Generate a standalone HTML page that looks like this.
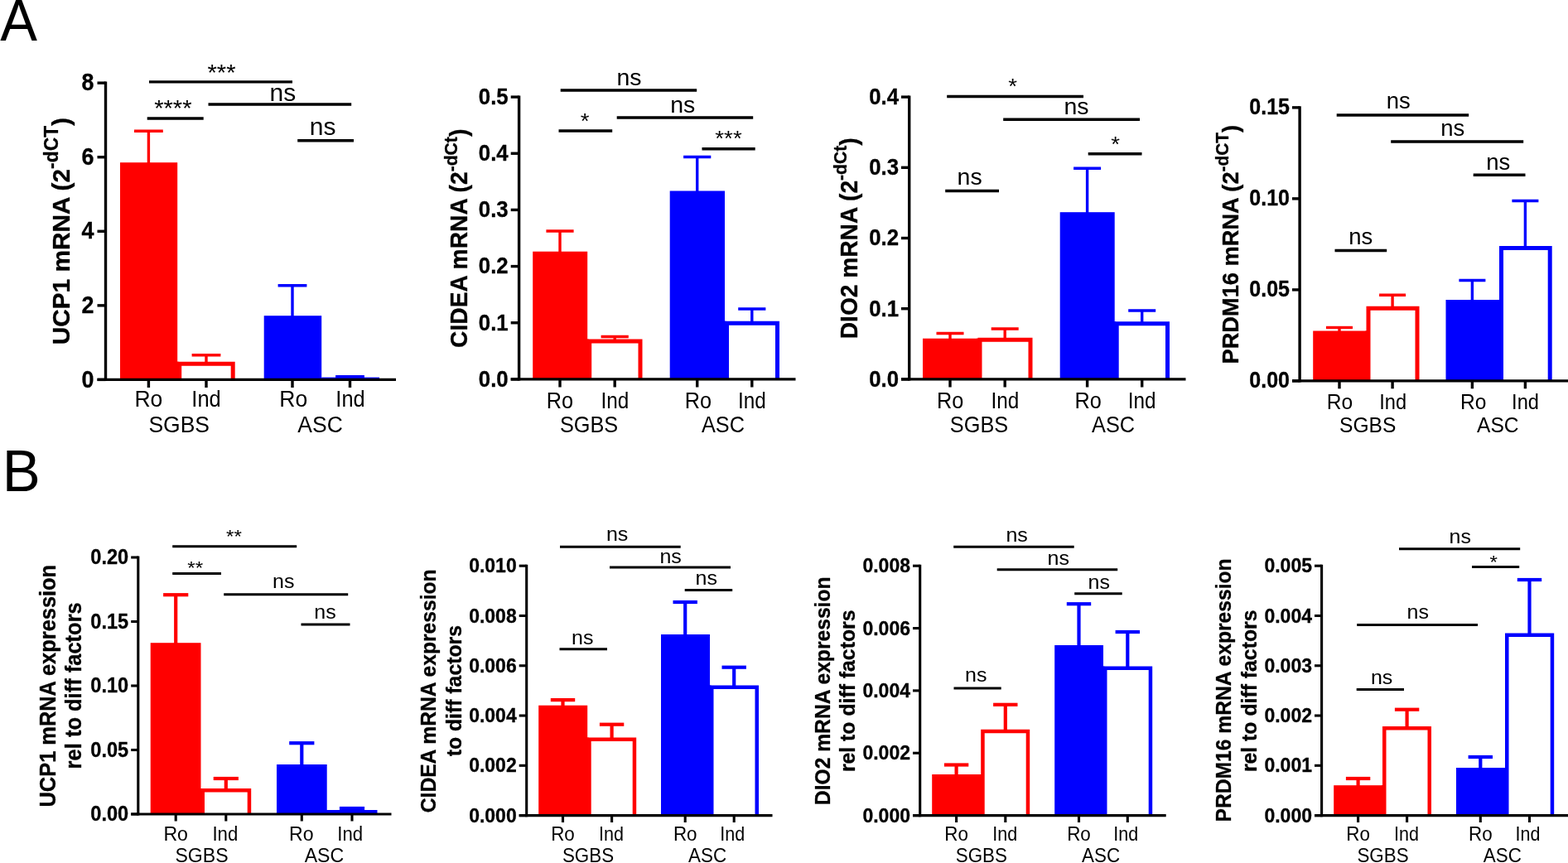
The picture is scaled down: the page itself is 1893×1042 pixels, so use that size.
<!DOCTYPE html>
<html lang="en"><head><meta charset="utf-8"><title>Figure</title>
<style>
html,body{margin:0;padding:0;background:#fff;overflow:hidden}
svg{display:block;font-family:"Liberation Sans",sans-serif;fill:#000}
</style></head><body>
<svg width="1893" height="1042" viewBox="0 0 1893 1042">
<rect width="1893" height="1042" fill="#fff"/>
<rect x="145.00" y="196.20" width="69.20" height="262.20" fill="#ff0000"/>
<path d="M216.70 458.40V439.20H281.20V458.40" fill="#fff" stroke="#ff0000" stroke-width="5.0" stroke-linejoin="miter"/>
<rect x="318.70" y="381.20" width="69.50" height="77.20" fill="#0000ff"/>
<rect x="388.20" y="455.60" width="69.80" height="2.80" fill="#0000ff"/>
<rect x="212.70" y="436.70" width="3.00" height="21.70" fill="#ff0000"/>
<line x1="179.40" y1="158.20" x2="179.40" y2="197.20" stroke="#ff0000" stroke-width="3.4"/>
<line x1="162.00" y1="158.20" x2="196.80" y2="158.20" stroke="#ff0000" stroke-width="3.4"/>
<line x1="249.00" y1="428.70" x2="249.00" y2="437.70" stroke="#ff0000" stroke-width="3.4"/>
<line x1="231.60" y1="428.70" x2="266.40" y2="428.70" stroke="#ff0000" stroke-width="3.4"/>
<line x1="353.00" y1="344.70" x2="353.00" y2="382.20" stroke="#0000ff" stroke-width="3.4"/>
<line x1="335.60" y1="344.70" x2="370.40" y2="344.70" stroke="#0000ff" stroke-width="3.4"/>
<line x1="405.10" y1="454.60" x2="439.90" y2="454.60" stroke="#0000ff" stroke-width="3.4"/>
<line x1="127.50" y1="98.45" x2="127.50" y2="460.10" stroke="#000000" stroke-width="3.4"/>
<line x1="117.50" y1="458.40" x2="478.00" y2="458.40" stroke="#000000" stroke-width="3.4"/>
<line x1="117.50" y1="100.15" x2="127.50" y2="100.15" stroke="#000000" stroke-width="3.4"/>
<text transform="translate(113.50 109.37) scale(1.000 1.075)" font-size="26.9" text-anchor="end" font-weight="bold" stroke="#000" stroke-width="0.3" stroke-linejoin="round">8</text>
<line x1="117.50" y1="189.71" x2="127.50" y2="189.71" stroke="#000000" stroke-width="3.4"/>
<text transform="translate(113.50 198.93) scale(1.000 1.075)" font-size="26.9" text-anchor="end" font-weight="bold" stroke="#000" stroke-width="0.3" stroke-linejoin="round">6</text>
<line x1="117.50" y1="279.27" x2="127.50" y2="279.27" stroke="#000000" stroke-width="3.4"/>
<text transform="translate(113.50 288.49) scale(1.000 1.075)" font-size="26.9" text-anchor="end" font-weight="bold" stroke="#000" stroke-width="0.3" stroke-linejoin="round">4</text>
<line x1="117.50" y1="368.84" x2="127.50" y2="368.84" stroke="#000000" stroke-width="3.4"/>
<text transform="translate(113.50 378.06) scale(1.000 1.075)" font-size="26.9" text-anchor="end" font-weight="bold" stroke="#000" stroke-width="0.3" stroke-linejoin="round">2</text>
<line x1="117.50" y1="458.40" x2="127.50" y2="458.40" stroke="#000000" stroke-width="3.4"/>
<text transform="translate(113.50 467.62) scale(1.000 1.075)" font-size="26.9" text-anchor="end" font-weight="bold" stroke="#000" stroke-width="0.3" stroke-linejoin="round">0</text>
<line x1="179.40" y1="458.40" x2="179.40" y2="468.00" stroke="#000000" stroke-width="3.4"/>
<line x1="249.00" y1="458.40" x2="249.00" y2="468.00" stroke="#000000" stroke-width="3.4"/>
<line x1="353.00" y1="458.40" x2="353.00" y2="468.00" stroke="#000000" stroke-width="3.4"/>
<line x1="422.50" y1="458.40" x2="422.50" y2="468.00" stroke="#000000" stroke-width="3.4"/>
<text transform="translate(179.40 491.20) scale(1.000 1.065)" font-size="26.5" text-anchor="middle">Ro</text>
<text transform="translate(249.00 491.20) scale(0.960 1.065)" font-size="26.5" text-anchor="middle">Ind</text>
<text transform="translate(354.30 491.20) scale(1.000 1.065)" font-size="26.5" text-anchor="middle">Ro</text>
<text transform="translate(423.00 491.20) scale(0.960 1.065)" font-size="26.5" text-anchor="middle">Ind</text>
<text transform="translate(216.20 521.70) scale(1.000 1.065)" font-size="26.5" text-anchor="middle">SGBS</text>
<text transform="translate(386.60 521.70) scale(1.000 1.065)" font-size="26.5" text-anchor="middle">ASC</text>
<line x1="180.00" y1="98.90" x2="353.00" y2="98.90" stroke="#000000" stroke-width="3.4"/>
<text transform="translate(267.50 97.23) scale(1.000 0.930)" font-size="29.099999999999998" text-anchor="middle">***</text>
<line x1="177.70" y1="143.00" x2="245.70" y2="143.00" stroke="#000000" stroke-width="3.4"/>
<text transform="translate(208.85 139.93) scale(1.000 0.930)" font-size="29.099999999999998" text-anchor="middle">****</text>
<line x1="251.50" y1="126.00" x2="424.20" y2="126.00" stroke="#000000" stroke-width="3.4"/>
<text transform="translate(341.40 121.70) scale(1.000 0.985)" font-size="30" text-anchor="middle">ns</text>
<line x1="359.20" y1="169.70" x2="427.00" y2="169.70" stroke="#000000" stroke-width="3.4"/>
<text transform="translate(389.70 163.00) scale(1.000 0.985)" font-size="30" text-anchor="middle">ns</text>
<text transform="translate(83.60 279.10) rotate(-90) scale(1.000 1.020)" font-size="29.8" text-anchor="middle" font-weight="bold" stroke="#000" stroke-width="0.3" stroke-linejoin="round">UCP1 mRNA (2<tspan font-size="22.86" dy="-13.56">-dCT</tspan><tspan dy="13.56">)</tspan></text>
<rect x="643.20" y="303.70" width="66.00" height="154.20" fill="#ff0000"/>
<path d="M711.70 457.90V412.00H773.00V457.90" fill="#fff" stroke="#ff0000" stroke-width="5.0" stroke-linejoin="miter"/>
<rect x="808.70" y="230.50" width="66.30" height="227.40" fill="#0000ff"/>
<path d="M877.50 457.90V390.20H938.50V457.90" fill="#fff" stroke="#0000ff" stroke-width="5.0" stroke-linejoin="miter"/>
<rect x="707.70" y="409.50" width="3.00" height="48.40" fill="#ff0000"/>
<rect x="873.50" y="387.70" width="3.00" height="70.20" fill="#0000ff"/>
<line x1="676.00" y1="279.00" x2="676.00" y2="304.70" stroke="#ff0000" stroke-width="3.4"/>
<line x1="659.40" y1="279.00" x2="692.60" y2="279.00" stroke="#ff0000" stroke-width="3.4"/>
<line x1="742.20" y1="406.50" x2="742.20" y2="410.50" stroke="#ff0000" stroke-width="3.4"/>
<line x1="725.60" y1="406.50" x2="758.80" y2="406.50" stroke="#ff0000" stroke-width="3.4"/>
<line x1="841.70" y1="189.50" x2="841.70" y2="231.50" stroke="#0000ff" stroke-width="3.4"/>
<line x1="825.10" y1="189.50" x2="858.30" y2="189.50" stroke="#0000ff" stroke-width="3.4"/>
<line x1="907.80" y1="373.00" x2="907.80" y2="388.70" stroke="#0000ff" stroke-width="3.4"/>
<line x1="891.20" y1="373.00" x2="924.40" y2="373.00" stroke="#0000ff" stroke-width="3.4"/>
<line x1="626.60" y1="115.40" x2="626.60" y2="459.60" stroke="#000000" stroke-width="3.4"/>
<line x1="616.70" y1="457.90" x2="960.50" y2="457.90" stroke="#000000" stroke-width="3.4"/>
<line x1="616.70" y1="117.10" x2="626.60" y2="117.10" stroke="#000000" stroke-width="3.4"/>
<text transform="translate(613.70 125.92) scale(1.000 1.075)" font-size="25.8" text-anchor="end" font-weight="bold" stroke="#000" stroke-width="0.3" stroke-linejoin="round">0.5</text>
<line x1="616.70" y1="185.26" x2="626.60" y2="185.26" stroke="#000000" stroke-width="3.4"/>
<text transform="translate(613.70 194.08) scale(1.000 1.075)" font-size="25.8" text-anchor="end" font-weight="bold" stroke="#000" stroke-width="0.3" stroke-linejoin="round">0.4</text>
<line x1="616.70" y1="253.42" x2="626.60" y2="253.42" stroke="#000000" stroke-width="3.4"/>
<text transform="translate(613.70 262.24) scale(1.000 1.075)" font-size="25.8" text-anchor="end" font-weight="bold" stroke="#000" stroke-width="0.3" stroke-linejoin="round">0.3</text>
<line x1="616.70" y1="321.58" x2="626.60" y2="321.58" stroke="#000000" stroke-width="3.4"/>
<text transform="translate(613.70 330.40) scale(1.000 1.075)" font-size="25.8" text-anchor="end" font-weight="bold" stroke="#000" stroke-width="0.3" stroke-linejoin="round">0.2</text>
<line x1="616.70" y1="389.74" x2="626.60" y2="389.74" stroke="#000000" stroke-width="3.4"/>
<text transform="translate(613.70 398.56) scale(1.000 1.075)" font-size="25.8" text-anchor="end" font-weight="bold" stroke="#000" stroke-width="0.3" stroke-linejoin="round">0.1</text>
<line x1="616.70" y1="457.90" x2="626.60" y2="457.90" stroke="#000000" stroke-width="3.4"/>
<text transform="translate(613.70 466.72) scale(1.000 1.075)" font-size="25.8" text-anchor="end" font-weight="bold" stroke="#000" stroke-width="0.3" stroke-linejoin="round">0.0</text>
<line x1="676.00" y1="457.90" x2="676.00" y2="467.50" stroke="#000000" stroke-width="3.4"/>
<line x1="742.20" y1="457.90" x2="742.20" y2="467.50" stroke="#000000" stroke-width="3.4"/>
<line x1="841.70" y1="457.90" x2="841.70" y2="467.50" stroke="#000000" stroke-width="3.4"/>
<line x1="907.80" y1="457.90" x2="907.80" y2="467.50" stroke="#000000" stroke-width="3.4"/>
<text transform="translate(676.00 493.00) scale(1.000 1.065)" font-size="25.3" text-anchor="middle">Ro</text>
<text transform="translate(742.50 493.00) scale(0.960 1.065)" font-size="25.3" text-anchor="middle">Ind</text>
<text transform="translate(843.00 493.00) scale(1.000 1.065)" font-size="25.3" text-anchor="middle">Ro</text>
<text transform="translate(908.00 493.00) scale(0.960 1.065)" font-size="25.3" text-anchor="middle">Ind</text>
<text transform="translate(711.10 521.70) scale(1.000 1.065)" font-size="25.3" text-anchor="middle">SGBS</text>
<text transform="translate(873.00 521.70) scale(1.000 1.065)" font-size="25.3" text-anchor="middle">ASC</text>
<line x1="676.70" y1="109.00" x2="841.20" y2="109.00" stroke="#000000" stroke-width="3.4"/>
<text transform="translate(759.50 102.50) scale(1.000 0.985)" font-size="28.5" text-anchor="middle">ns</text>
<line x1="674.50" y1="158.00" x2="739.20" y2="158.00" stroke="#000000" stroke-width="3.4"/>
<text transform="translate(706.20 155.30) scale(1.000 0.930)" font-size="27.645" text-anchor="middle">*</text>
<line x1="744.70" y1="142.00" x2="909.20" y2="142.00" stroke="#000000" stroke-width="3.4"/>
<text transform="translate(824.20 135.70) scale(1.000 0.985)" font-size="28.5" text-anchor="middle">ns</text>
<line x1="847.50" y1="179.70" x2="911.70" y2="179.70" stroke="#000000" stroke-width="3.4"/>
<text transform="translate(879.50 176.20) scale(1.000 0.930)" font-size="27.645" text-anchor="middle">***</text>
<text transform="translate(563.70 287.80) rotate(-90) scale(1.000 1.025)" font-size="28.2" text-anchor="middle" font-weight="bold" stroke="#000" stroke-width="0.3" stroke-linejoin="round">CIDEA mRNA (2<tspan font-size="21.15" dy="-11.56">-dCt</tspan><tspan dy="11.56">)</tspan></text>
<rect x="1114.00" y="408.70" width="66.50" height="49.20" fill="#ff0000"/>
<path d="M1183.00 457.90V410.20H1244.00V457.90" fill="#fff" stroke="#ff0000" stroke-width="5.0" stroke-linejoin="miter"/>
<rect x="1279.70" y="256.20" width="66.00" height="201.70" fill="#0000ff"/>
<path d="M1348.20 457.90V390.70H1409.50V457.90" fill="#fff" stroke="#0000ff" stroke-width="5.0" stroke-linejoin="miter"/>
<rect x="1179.00" y="408.70" width="3.00" height="49.20" fill="#ff0000"/>
<rect x="1344.20" y="388.20" width="3.00" height="69.70" fill="#0000ff"/>
<line x1="1147.00" y1="402.50" x2="1147.00" y2="409.70" stroke="#ff0000" stroke-width="3.4"/>
<line x1="1130.50" y1="402.50" x2="1163.50" y2="402.50" stroke="#ff0000" stroke-width="3.4"/>
<line x1="1213.20" y1="397.00" x2="1213.20" y2="408.70" stroke="#ff0000" stroke-width="3.4"/>
<line x1="1196.70" y1="397.00" x2="1229.70" y2="397.00" stroke="#ff0000" stroke-width="3.4"/>
<line x1="1312.60" y1="203.20" x2="1312.60" y2="257.20" stroke="#0000ff" stroke-width="3.4"/>
<line x1="1296.10" y1="203.20" x2="1329.10" y2="203.20" stroke="#0000ff" stroke-width="3.4"/>
<line x1="1378.70" y1="375.00" x2="1378.70" y2="389.20" stroke="#0000ff" stroke-width="3.4"/>
<line x1="1362.20" y1="375.00" x2="1395.20" y2="375.00" stroke="#0000ff" stroke-width="3.4"/>
<line x1="1097.70" y1="115.40" x2="1097.70" y2="459.60" stroke="#000000" stroke-width="3.4"/>
<line x1="1088.00" y1="457.90" x2="1431.50" y2="457.90" stroke="#000000" stroke-width="3.4"/>
<line x1="1088.00" y1="117.10" x2="1097.70" y2="117.10" stroke="#000000" stroke-width="3.4"/>
<text transform="translate(1085.00 125.92) scale(1.000 1.075)" font-size="25.8" text-anchor="end" font-weight="bold" stroke="#000" stroke-width="0.3" stroke-linejoin="round">0.4</text>
<line x1="1088.00" y1="202.30" x2="1097.70" y2="202.30" stroke="#000000" stroke-width="3.4"/>
<text transform="translate(1085.00 211.12) scale(1.000 1.075)" font-size="25.8" text-anchor="end" font-weight="bold" stroke="#000" stroke-width="0.3" stroke-linejoin="round">0.3</text>
<line x1="1088.00" y1="287.50" x2="1097.70" y2="287.50" stroke="#000000" stroke-width="3.4"/>
<text transform="translate(1085.00 296.32) scale(1.000 1.075)" font-size="25.8" text-anchor="end" font-weight="bold" stroke="#000" stroke-width="0.3" stroke-linejoin="round">0.2</text>
<line x1="1088.00" y1="372.70" x2="1097.70" y2="372.70" stroke="#000000" stroke-width="3.4"/>
<text transform="translate(1085.00 381.52) scale(1.000 1.075)" font-size="25.8" text-anchor="end" font-weight="bold" stroke="#000" stroke-width="0.3" stroke-linejoin="round">0.1</text>
<line x1="1088.00" y1="457.90" x2="1097.70" y2="457.90" stroke="#000000" stroke-width="3.4"/>
<text transform="translate(1085.00 466.72) scale(1.000 1.075)" font-size="25.8" text-anchor="end" font-weight="bold" stroke="#000" stroke-width="0.3" stroke-linejoin="round">0.0</text>
<line x1="1147.00" y1="457.90" x2="1147.00" y2="467.50" stroke="#000000" stroke-width="3.4"/>
<line x1="1213.20" y1="457.90" x2="1213.20" y2="467.50" stroke="#000000" stroke-width="3.4"/>
<line x1="1312.60" y1="457.90" x2="1312.60" y2="467.50" stroke="#000000" stroke-width="3.4"/>
<line x1="1378.70" y1="457.90" x2="1378.70" y2="467.50" stroke="#000000" stroke-width="3.4"/>
<text transform="translate(1147.20 493.00) scale(1.000 1.065)" font-size="25.3" text-anchor="middle">Ro</text>
<text transform="translate(1213.50 493.00) scale(0.960 1.065)" font-size="25.3" text-anchor="middle">Ind</text>
<text transform="translate(1313.60 493.00) scale(1.000 1.065)" font-size="25.3" text-anchor="middle">Ro</text>
<text transform="translate(1378.70 493.00) scale(0.960 1.065)" font-size="25.3" text-anchor="middle">Ind</text>
<text transform="translate(1182.00 521.70) scale(1.000 1.065)" font-size="25.3" text-anchor="middle">SGBS</text>
<text transform="translate(1344.10 521.70) scale(1.000 1.065)" font-size="25.3" text-anchor="middle">ASC</text>
<line x1="1143.20" y1="116.50" x2="1308.00" y2="116.50" stroke="#000000" stroke-width="3.4"/>
<text transform="translate(1222.50 113.20) scale(1.000 0.930)" font-size="27.645" text-anchor="middle">*</text>
<line x1="1211.20" y1="144.20" x2="1376.00" y2="144.20" stroke="#000000" stroke-width="3.4"/>
<text transform="translate(1299.50 138.00) scale(1.000 0.985)" font-size="28.5" text-anchor="middle">ns</text>
<line x1="1313.70" y1="185.70" x2="1378.50" y2="185.70" stroke="#000000" stroke-width="3.4"/>
<text transform="translate(1346.50 182.80) scale(1.000 0.930)" font-size="27.645" text-anchor="middle">*</text>
<line x1="1141.20" y1="230.50" x2="1206.00" y2="230.50" stroke="#000000" stroke-width="3.4"/>
<text transform="translate(1170.60 223.20) scale(1.000 0.985)" font-size="28.5" text-anchor="middle">ns</text>
<text transform="translate(1034.80 287.80) rotate(-90) scale(1.000 1.025)" font-size="28.15" text-anchor="middle" font-weight="bold" stroke="#000" stroke-width="0.3" stroke-linejoin="round">DIO2 mRNA (2<tspan font-size="21.11" dy="-12.25">-dCt</tspan><tspan dy="12.25">)</tspan></text>
<rect x="1585.20" y="399.50" width="64.80" height="60.40" fill="#ff0000"/>
<path d="M1652.00 459.90V372.20H1711.00V459.90" fill="#fff" stroke="#ff0000" stroke-width="5.0" stroke-linejoin="miter"/>
<rect x="1745.50" y="362.00" width="64.50" height="97.90" fill="#0000ff"/>
<path d="M1812.50 459.90V299.50H1871.20V459.90" fill="#fff" stroke="#0000ff" stroke-width="5.0" stroke-linejoin="miter"/>
<rect x="1648.50" y="399.50" width="2.50" height="60.40" fill="#ff0000"/>
<rect x="1808.50" y="362.00" width="3.00" height="97.90" fill="#0000ff"/>
<line x1="1617.00" y1="395.50" x2="1617.00" y2="400.50" stroke="#ff0000" stroke-width="3.4"/>
<line x1="1601.00" y1="395.50" x2="1633.00" y2="395.50" stroke="#ff0000" stroke-width="3.4"/>
<line x1="1681.10" y1="356.20" x2="1681.10" y2="370.70" stroke="#ff0000" stroke-width="3.4"/>
<line x1="1665.10" y1="356.20" x2="1697.10" y2="356.20" stroke="#ff0000" stroke-width="3.4"/>
<line x1="1777.40" y1="338.50" x2="1777.40" y2="363.00" stroke="#0000ff" stroke-width="3.4"/>
<line x1="1761.40" y1="338.50" x2="1793.40" y2="338.50" stroke="#0000ff" stroke-width="3.4"/>
<line x1="1841.40" y1="242.50" x2="1841.40" y2="298.00" stroke="#0000ff" stroke-width="3.4"/>
<line x1="1825.40" y1="242.50" x2="1857.40" y2="242.50" stroke="#0000ff" stroke-width="3.4"/>
<line x1="1569.10" y1="128.15" x2="1569.10" y2="461.60" stroke="#000000" stroke-width="3.4"/>
<line x1="1560.00" y1="459.90" x2="1893.00" y2="459.90" stroke="#000000" stroke-width="3.4"/>
<line x1="1560.00" y1="129.85" x2="1569.10" y2="129.85" stroke="#000000" stroke-width="3.4"/>
<text transform="translate(1557.00 138.38) scale(1.000 1.075)" font-size="25.0" text-anchor="end" font-weight="bold" stroke="#000" stroke-width="0.3" stroke-linejoin="round">0.15</text>
<line x1="1560.00" y1="239.87" x2="1569.10" y2="239.87" stroke="#000000" stroke-width="3.4"/>
<text transform="translate(1557.00 248.39) scale(1.000 1.075)" font-size="25.0" text-anchor="end" font-weight="bold" stroke="#000" stroke-width="0.3" stroke-linejoin="round">0.10</text>
<line x1="1560.00" y1="349.88" x2="1569.10" y2="349.88" stroke="#000000" stroke-width="3.4"/>
<text transform="translate(1557.00 358.41) scale(1.000 1.075)" font-size="25.0" text-anchor="end" font-weight="bold" stroke="#000" stroke-width="0.3" stroke-linejoin="round">0.05</text>
<line x1="1560.00" y1="459.90" x2="1569.10" y2="459.90" stroke="#000000" stroke-width="3.4"/>
<text transform="translate(1557.00 468.42) scale(1.000 1.075)" font-size="25.0" text-anchor="end" font-weight="bold" stroke="#000" stroke-width="0.3" stroke-linejoin="round">0.00</text>
<line x1="1617.00" y1="459.90" x2="1617.00" y2="469.30" stroke="#000000" stroke-width="3.4"/>
<line x1="1681.10" y1="459.90" x2="1681.10" y2="469.30" stroke="#000000" stroke-width="3.4"/>
<line x1="1777.40" y1="459.90" x2="1777.40" y2="469.30" stroke="#000000" stroke-width="3.4"/>
<line x1="1841.40" y1="459.90" x2="1841.40" y2="469.30" stroke="#000000" stroke-width="3.4"/>
<text transform="translate(1617.40 493.70) scale(1.000 1.065)" font-size="24.6" text-anchor="middle">Ro</text>
<text transform="translate(1681.70 493.70) scale(0.960 1.065)" font-size="24.6" text-anchor="middle">Ind</text>
<text transform="translate(1778.70 493.70) scale(1.000 1.065)" font-size="24.6" text-anchor="middle">Ro</text>
<text transform="translate(1841.50 493.70) scale(0.960 1.065)" font-size="24.6" text-anchor="middle">Ind</text>
<text transform="translate(1651.20 521.70) scale(1.000 1.065)" font-size="24.6" text-anchor="middle">SGBS</text>
<text transform="translate(1808.30 521.70) scale(1.000 1.065)" font-size="24.6" text-anchor="middle">ASC</text>
<line x1="1613.70" y1="139.00" x2="1773.20" y2="139.00" stroke="#000000" stroke-width="3.4"/>
<text transform="translate(1688.20 130.70) scale(1.000 0.985)" font-size="27.5" text-anchor="middle">ns</text>
<line x1="1679.20" y1="171.00" x2="1839.20" y2="171.00" stroke="#000000" stroke-width="3.4"/>
<text transform="translate(1753.70 163.70) scale(1.000 0.985)" font-size="27.5" text-anchor="middle">ns</text>
<line x1="1778.70" y1="211.20" x2="1841.50" y2="211.20" stroke="#000000" stroke-width="3.4"/>
<text transform="translate(1808.70 205.00) scale(1.000 0.985)" font-size="27.5" text-anchor="middle">ns</text>
<line x1="1611.50" y1="302.50" x2="1674.20" y2="302.50" stroke="#000000" stroke-width="3.4"/>
<text transform="translate(1642.70 295.00) scale(1.000 0.985)" font-size="27.5" text-anchor="middle">ns</text>
<text transform="translate(1495.30 295.20) rotate(-90) scale(1.000 1.025)" font-size="27.24" text-anchor="middle" font-weight="bold" stroke="#000" stroke-width="0.3" stroke-linejoin="round">PRDM16 mRNA (2<tspan font-size="20.89" dy="-12.39">-dCT</tspan><tspan dy="12.39">)</tspan></text>
<rect x="181.70" y="776.20" width="60.80" height="206.80" fill="#ff0000"/>
<path d="M244.75 983.00V954.25H300.95V983.00" fill="#fff" stroke="#ff0000" stroke-width="4.5" stroke-linejoin="miter"/>
<rect x="334.00" y="923.00" width="60.70" height="60.00" fill="#0000ff"/>
<path d="M396.95 983.00V980.25H453.25V983.00" fill="#fff" stroke="#0000ff" stroke-width="4.5" stroke-linejoin="miter"/>
<rect x="241.00" y="952.00" width="3.00" height="31.00" fill="#ff0000"/>
<rect x="393.20" y="978.00" width="3.00" height="5.00" fill="#0000ff"/>
<line x1="212.20" y1="718.20" x2="212.20" y2="777.20" stroke="#ff0000" stroke-width="4.2"/>
<line x1="197.10" y1="718.20" x2="227.30" y2="718.20" stroke="#ff0000" stroke-width="4.2"/>
<line x1="272.80" y1="940.00" x2="272.80" y2="953.00" stroke="#ff0000" stroke-width="4.2"/>
<line x1="257.70" y1="940.00" x2="287.90" y2="940.00" stroke="#ff0000" stroke-width="4.2"/>
<line x1="364.30" y1="897.20" x2="364.30" y2="924.00" stroke="#0000ff" stroke-width="4.2"/>
<line x1="349.20" y1="897.20" x2="379.40" y2="897.20" stroke="#0000ff" stroke-width="4.2"/>
<line x1="409.90" y1="976.00" x2="440.10" y2="976.00" stroke="#0000ff" stroke-width="4.2"/>
<line x1="166.80" y1="671.45" x2="166.80" y2="984.55" stroke="#000000" stroke-width="3.1"/>
<line x1="158.20" y1="983.00" x2="472.50" y2="983.00" stroke="#000000" stroke-width="3.1"/>
<line x1="158.20" y1="673.00" x2="166.80" y2="673.00" stroke="#000000" stroke-width="3.1"/>
<text transform="translate(155.20 681.01) scale(1.000 1.075)" font-size="23.6" text-anchor="end" font-weight="bold" stroke="#000" stroke-width="0.3" stroke-linejoin="round">0.20</text>
<line x1="158.20" y1="750.50" x2="166.80" y2="750.50" stroke="#000000" stroke-width="3.1"/>
<text transform="translate(155.20 758.51) scale(1.000 1.075)" font-size="23.6" text-anchor="end" font-weight="bold" stroke="#000" stroke-width="0.3" stroke-linejoin="round">0.15</text>
<line x1="158.20" y1="828.00" x2="166.80" y2="828.00" stroke="#000000" stroke-width="3.1"/>
<text transform="translate(155.20 836.01) scale(1.000 1.075)" font-size="23.6" text-anchor="end" font-weight="bold" stroke="#000" stroke-width="0.3" stroke-linejoin="round">0.10</text>
<line x1="158.20" y1="905.50" x2="166.80" y2="905.50" stroke="#000000" stroke-width="3.1"/>
<text transform="translate(155.20 913.51) scale(1.000 1.075)" font-size="23.6" text-anchor="end" font-weight="bold" stroke="#000" stroke-width="0.3" stroke-linejoin="round">0.05</text>
<line x1="158.20" y1="983.00" x2="166.80" y2="983.00" stroke="#000000" stroke-width="3.1"/>
<text transform="translate(155.20 991.01) scale(1.000 1.075)" font-size="23.6" text-anchor="end" font-weight="bold" stroke="#000" stroke-width="0.3" stroke-linejoin="round">0.00</text>
<line x1="212.20" y1="983.00" x2="212.20" y2="991.50" stroke="#000000" stroke-width="3.1"/>
<line x1="272.80" y1="983.00" x2="272.80" y2="991.50" stroke="#000000" stroke-width="3.1"/>
<line x1="364.30" y1="983.00" x2="364.30" y2="991.50" stroke="#000000" stroke-width="3.1"/>
<line x1="425.00" y1="983.00" x2="425.00" y2="991.50" stroke="#000000" stroke-width="3.1"/>
<text transform="translate(212.20 1015.00) scale(1.000 1.065)" font-size="23.1" text-anchor="middle">Ro</text>
<text transform="translate(271.80 1015.00) scale(0.960 1.065)" font-size="23.1" text-anchor="middle">Ind</text>
<text transform="translate(363.80 1015.00) scale(1.000 1.065)" font-size="23.1" text-anchor="middle">Ro</text>
<text transform="translate(422.70 1015.00) scale(0.960 1.065)" font-size="23.1" text-anchor="middle">Ind</text>
<text transform="translate(243.50 1041.30) scale(1.000 1.065)" font-size="23.1" text-anchor="middle">SGBS</text>
<text transform="translate(391.40 1041.30) scale(1.000 1.065)" font-size="23.1" text-anchor="middle">ASC</text>
<line x1="208.20" y1="659.70" x2="358.20" y2="659.70" stroke="#000000" stroke-width="3.0"/>
<text transform="translate(282.40 655.33) scale(1.000 0.930)" font-size="24.25" text-anchor="middle">**</text>
<line x1="208.20" y1="692.50" x2="267.00" y2="692.50" stroke="#000000" stroke-width="3.0"/>
<text transform="translate(235.80 692.73) scale(1.000 0.930)" font-size="24.25" text-anchor="middle">**</text>
<line x1="270.20" y1="717.70" x2="420.20" y2="717.70" stroke="#000000" stroke-width="3.0"/>
<text transform="translate(342.20 710.00) scale(1.000 0.985)" font-size="25" text-anchor="middle">ns</text>
<line x1="363.50" y1="754.00" x2="422.50" y2="754.00" stroke="#000000" stroke-width="3.0"/>
<text transform="translate(392.50 746.50) scale(1.000 0.985)" font-size="25" text-anchor="middle">ns</text>
<text transform="translate(66.60 828.20) rotate(-90) scale(1.000 1.075)" font-size="25.4" text-anchor="middle" font-weight="bold" stroke="#000" stroke-width="0.3" stroke-linejoin="round">UCP1 mRNA expression</text>
<text transform="translate(97.90 827.80) rotate(-90) scale(1.000 1.075)" font-size="25.5" text-anchor="middle" font-weight="bold" stroke="#000" stroke-width="0.3" stroke-linejoin="round">rel to diff factors</text>
<rect x="650.20" y="851.70" width="59.00" height="132.90" fill="#ff0000"/>
<path d="M711.45 984.60V892.75H765.95V984.60" fill="#fff" stroke="#ff0000" stroke-width="4.5" stroke-linejoin="miter"/>
<rect x="798.00" y="766.00" width="59.00" height="218.60" fill="#0000ff"/>
<path d="M859.25 984.60V829.75H913.75V984.60" fill="#fff" stroke="#0000ff" stroke-width="4.5" stroke-linejoin="miter"/>
<rect x="707.70" y="890.50" width="3.00" height="94.10" fill="#ff0000"/>
<rect x="855.50" y="827.50" width="3.00" height="157.10" fill="#0000ff"/>
<line x1="679.50" y1="845.10" x2="679.50" y2="852.70" stroke="#ff0000" stroke-width="4.2"/>
<line x1="664.80" y1="845.10" x2="694.20" y2="845.10" stroke="#ff0000" stroke-width="4.2"/>
<line x1="738.60" y1="874.70" x2="738.60" y2="891.50" stroke="#ff0000" stroke-width="4.2"/>
<line x1="723.90" y1="874.70" x2="753.30" y2="874.70" stroke="#ff0000" stroke-width="4.2"/>
<line x1="827.20" y1="727.00" x2="827.20" y2="767.00" stroke="#0000ff" stroke-width="4.2"/>
<line x1="812.50" y1="727.00" x2="841.90" y2="727.00" stroke="#0000ff" stroke-width="4.2"/>
<line x1="886.20" y1="805.70" x2="886.20" y2="828.50" stroke="#0000ff" stroke-width="4.2"/>
<line x1="871.50" y1="805.70" x2="900.90" y2="805.70" stroke="#0000ff" stroke-width="4.2"/>
<line x1="635.70" y1="681.65" x2="635.70" y2="986.15" stroke="#000000" stroke-width="3.1"/>
<line x1="626.70" y1="984.60" x2="932.50" y2="984.60" stroke="#000000" stroke-width="3.1"/>
<line x1="626.70" y1="683.20" x2="635.70" y2="683.20" stroke="#000000" stroke-width="3.1"/>
<text transform="translate(623.70 691.30) scale(1.000 1.050)" font-size="23.0" text-anchor="end" font-weight="bold" stroke="#000" stroke-width="0.3" stroke-linejoin="round">0.010</text>
<line x1="626.70" y1="743.48" x2="635.70" y2="743.48" stroke="#000000" stroke-width="3.1"/>
<text transform="translate(623.70 751.58) scale(1.000 1.050)" font-size="23.0" text-anchor="end" font-weight="bold" stroke="#000" stroke-width="0.3" stroke-linejoin="round">0.008</text>
<line x1="626.70" y1="803.76" x2="635.70" y2="803.76" stroke="#000000" stroke-width="3.1"/>
<text transform="translate(623.70 811.86) scale(1.000 1.050)" font-size="23.0" text-anchor="end" font-weight="bold" stroke="#000" stroke-width="0.3" stroke-linejoin="round">0.006</text>
<line x1="626.70" y1="864.04" x2="635.70" y2="864.04" stroke="#000000" stroke-width="3.1"/>
<text transform="translate(623.70 872.13) scale(1.000 1.050)" font-size="23.0" text-anchor="end" font-weight="bold" stroke="#000" stroke-width="0.3" stroke-linejoin="round">0.004</text>
<line x1="626.70" y1="924.32" x2="635.70" y2="924.32" stroke="#000000" stroke-width="3.1"/>
<text transform="translate(623.70 932.42) scale(1.000 1.050)" font-size="23.0" text-anchor="end" font-weight="bold" stroke="#000" stroke-width="0.3" stroke-linejoin="round">0.002</text>
<line x1="626.70" y1="984.60" x2="635.70" y2="984.60" stroke="#000000" stroke-width="3.1"/>
<text transform="translate(623.70 992.70) scale(1.000 1.050)" font-size="23.0" text-anchor="end" font-weight="bold" stroke="#000" stroke-width="0.3" stroke-linejoin="round">0.000</text>
<line x1="679.50" y1="984.60" x2="679.50" y2="993.00" stroke="#000000" stroke-width="3.1"/>
<line x1="738.60" y1="984.60" x2="738.60" y2="993.00" stroke="#000000" stroke-width="3.1"/>
<line x1="827.20" y1="984.60" x2="827.20" y2="993.00" stroke="#000000" stroke-width="3.1"/>
<line x1="886.20" y1="984.60" x2="886.20" y2="993.00" stroke="#000000" stroke-width="3.1"/>
<text transform="translate(679.50 1015.20) scale(1.000 1.065)" font-size="22.4" text-anchor="middle">Ro</text>
<text transform="translate(738.00 1015.20) scale(0.960 1.065)" font-size="22.4" text-anchor="middle">Ind</text>
<text transform="translate(827.20 1015.20) scale(1.000 1.065)" font-size="22.4" text-anchor="middle">Ro</text>
<text transform="translate(884.20 1015.20) scale(0.960 1.065)" font-size="22.4" text-anchor="middle">Ind</text>
<text transform="translate(710.00 1041.30) scale(1.000 1.065)" font-size="22.4" text-anchor="middle">SGBS</text>
<text transform="translate(854.10 1041.30) scale(1.000 1.065)" font-size="22.4" text-anchor="middle">ASC</text>
<line x1="676.00" y1="660.20" x2="821.70" y2="660.20" stroke="#000000" stroke-width="3.0"/>
<text transform="translate(745.10 653.00) scale(1.000 0.985)" font-size="25" text-anchor="middle">ns</text>
<line x1="736.00" y1="685.00" x2="882.00" y2="685.00" stroke="#000000" stroke-width="3.0"/>
<text transform="translate(809.60 680.00) scale(1.000 0.985)" font-size="25" text-anchor="middle">ns</text>
<line x1="826.70" y1="712.50" x2="884.20" y2="712.50" stroke="#000000" stroke-width="3.0"/>
<text transform="translate(852.70 706.00) scale(1.000 0.985)" font-size="25" text-anchor="middle">ns</text>
<line x1="675.50" y1="783.70" x2="733.00" y2="783.70" stroke="#000000" stroke-width="3.0"/>
<text transform="translate(703.30 778.00) scale(1.000 0.985)" font-size="25" text-anchor="middle">ns</text>
<text transform="translate(526.30 834.30) rotate(-90) scale(1.000 1.065)" font-size="24.65" text-anchor="middle" font-weight="bold" stroke="#000" stroke-width="0.3" stroke-linejoin="round">CIDEA mRNA expression</text>
<text transform="translate(556.80 834.15) rotate(-90) scale(1.000 1.065)" font-size="24.8" text-anchor="middle" font-weight="bold" stroke="#000" stroke-width="0.3" stroke-linejoin="round">to diff factors</text>
<rect x="1125.20" y="935.00" width="59.00" height="49.60" fill="#ff0000"/>
<path d="M1186.45 984.60V882.95H1240.95V984.60" fill="#fff" stroke="#ff0000" stroke-width="4.5" stroke-linejoin="miter"/>
<rect x="1273.20" y="779.00" width="58.80" height="205.60" fill="#0000ff"/>
<path d="M1334.25 984.60V806.85H1388.95V984.60" fill="#fff" stroke="#0000ff" stroke-width="4.5" stroke-linejoin="miter"/>
<rect x="1182.70" y="935.00" width="3.00" height="49.60" fill="#ff0000"/>
<rect x="1330.50" y="804.60" width="3.00" height="180.00" fill="#0000ff"/>
<line x1="1154.60" y1="923.50" x2="1154.60" y2="936.00" stroke="#ff0000" stroke-width="4.2"/>
<line x1="1139.90" y1="923.50" x2="1169.30" y2="923.50" stroke="#ff0000" stroke-width="4.2"/>
<line x1="1213.80" y1="850.80" x2="1213.80" y2="881.70" stroke="#ff0000" stroke-width="4.2"/>
<line x1="1199.10" y1="850.80" x2="1228.50" y2="850.80" stroke="#ff0000" stroke-width="4.2"/>
<line x1="1302.50" y1="729.20" x2="1302.50" y2="780.00" stroke="#0000ff" stroke-width="4.2"/>
<line x1="1287.80" y1="729.20" x2="1317.20" y2="729.20" stroke="#0000ff" stroke-width="4.2"/>
<line x1="1361.30" y1="763.00" x2="1361.30" y2="805.60" stroke="#0000ff" stroke-width="4.2"/>
<line x1="1346.60" y1="763.00" x2="1376.00" y2="763.00" stroke="#0000ff" stroke-width="4.2"/>
<line x1="1110.70" y1="681.65" x2="1110.70" y2="986.15" stroke="#000000" stroke-width="3.1"/>
<line x1="1102.00" y1="984.60" x2="1407.70" y2="984.60" stroke="#000000" stroke-width="3.1"/>
<line x1="1102.00" y1="683.20" x2="1110.70" y2="683.20" stroke="#000000" stroke-width="3.1"/>
<text transform="translate(1099.00 691.30) scale(1.000 1.050)" font-size="23.0" text-anchor="end" font-weight="bold" stroke="#000" stroke-width="0.3" stroke-linejoin="round">0.008</text>
<line x1="1102.00" y1="758.55" x2="1110.70" y2="758.55" stroke="#000000" stroke-width="3.1"/>
<text transform="translate(1099.00 766.65) scale(1.000 1.050)" font-size="23.0" text-anchor="end" font-weight="bold" stroke="#000" stroke-width="0.3" stroke-linejoin="round">0.006</text>
<line x1="1102.00" y1="833.90" x2="1110.70" y2="833.90" stroke="#000000" stroke-width="3.1"/>
<text transform="translate(1099.00 842.00) scale(1.000 1.050)" font-size="23.0" text-anchor="end" font-weight="bold" stroke="#000" stroke-width="0.3" stroke-linejoin="round">0.004</text>
<line x1="1102.00" y1="909.25" x2="1110.70" y2="909.25" stroke="#000000" stroke-width="3.1"/>
<text transform="translate(1099.00 917.35) scale(1.000 1.050)" font-size="23.0" text-anchor="end" font-weight="bold" stroke="#000" stroke-width="0.3" stroke-linejoin="round">0.002</text>
<line x1="1102.00" y1="984.60" x2="1110.70" y2="984.60" stroke="#000000" stroke-width="3.1"/>
<text transform="translate(1099.00 992.70) scale(1.000 1.050)" font-size="23.0" text-anchor="end" font-weight="bold" stroke="#000" stroke-width="0.3" stroke-linejoin="round">0.000</text>
<line x1="1154.60" y1="984.60" x2="1154.60" y2="993.00" stroke="#000000" stroke-width="3.1"/>
<line x1="1213.80" y1="984.60" x2="1213.80" y2="993.00" stroke="#000000" stroke-width="3.1"/>
<line x1="1302.50" y1="984.60" x2="1302.50" y2="993.00" stroke="#000000" stroke-width="3.1"/>
<line x1="1361.30" y1="984.60" x2="1361.30" y2="993.00" stroke="#000000" stroke-width="3.1"/>
<text transform="translate(1154.60 1015.20) scale(1.000 1.065)" font-size="22.4" text-anchor="middle">Ro</text>
<text transform="translate(1213.20 1015.20) scale(0.960 1.065)" font-size="22.4" text-anchor="middle">Ind</text>
<text transform="translate(1302.50 1015.20) scale(1.000 1.065)" font-size="22.4" text-anchor="middle">Ro</text>
<text transform="translate(1359.30 1015.20) scale(0.960 1.065)" font-size="22.4" text-anchor="middle">Ind</text>
<text transform="translate(1184.80 1041.30) scale(1.000 1.065)" font-size="22.4" text-anchor="middle">SGBS</text>
<text transform="translate(1329.10 1041.30) scale(1.000 1.065)" font-size="22.4" text-anchor="middle">ASC</text>
<line x1="1151.20" y1="660.20" x2="1296.70" y2="660.20" stroke="#000000" stroke-width="3.0"/>
<text transform="translate(1227.60 653.70) scale(1.000 0.985)" font-size="25" text-anchor="middle">ns</text>
<line x1="1203.70" y1="687.70" x2="1349.20" y2="687.70" stroke="#000000" stroke-width="3.0"/>
<text transform="translate(1277.70 682.00) scale(1.000 0.985)" font-size="25" text-anchor="middle">ns</text>
<line x1="1297.20" y1="716.70" x2="1354.70" y2="716.70" stroke="#000000" stroke-width="3.0"/>
<text transform="translate(1326.80 710.70) scale(1.000 0.985)" font-size="25" text-anchor="middle">ns</text>
<line x1="1151.50" y1="831.00" x2="1208.70" y2="831.00" stroke="#000000" stroke-width="3.0"/>
<text transform="translate(1178.20 823.00) scale(1.000 0.985)" font-size="25" text-anchor="middle">ns</text>
<text transform="translate(1001.80 834.30) rotate(-90) scale(1.000 1.065)" font-size="24.65" text-anchor="middle" font-weight="bold" stroke="#000" stroke-width="0.3" stroke-linejoin="round">DIO2 mRNA expression</text>
<text transform="translate(1031.80 834.30) rotate(-90) scale(1.000 1.065)" font-size="24.8" text-anchor="middle" font-weight="bold" stroke="#000" stroke-width="0.3" stroke-linejoin="round">rel to diff factors</text>
<rect x="1610.20" y="948.20" width="59.30" height="36.40" fill="#ff0000"/>
<path d="M1671.25 984.60V879.25H1725.75V984.60" fill="#fff" stroke="#ff0000" stroke-width="4.5" stroke-linejoin="miter"/>
<rect x="1758.00" y="927.00" width="59.50" height="57.60" fill="#0000ff"/>
<path d="M1819.25 984.60V766.75H1873.95V984.60" fill="#fff" stroke="#0000ff" stroke-width="4.5" stroke-linejoin="miter"/>
<rect x="1668.00" y="948.20" width="2.50" height="36.40" fill="#ff0000"/>
<rect x="1816.00" y="927.00" width="2.50" height="57.60" fill="#0000ff"/>
<line x1="1639.60" y1="940.00" x2="1639.60" y2="949.20" stroke="#ff0000" stroke-width="4.2"/>
<line x1="1624.90" y1="940.00" x2="1654.30" y2="940.00" stroke="#ff0000" stroke-width="4.2"/>
<line x1="1698.60" y1="856.70" x2="1698.60" y2="878.00" stroke="#ff0000" stroke-width="4.2"/>
<line x1="1683.90" y1="856.70" x2="1713.30" y2="856.70" stroke="#ff0000" stroke-width="4.2"/>
<line x1="1787.30" y1="914.00" x2="1787.30" y2="928.00" stroke="#0000ff" stroke-width="4.2"/>
<line x1="1772.60" y1="914.00" x2="1802.00" y2="914.00" stroke="#0000ff" stroke-width="4.2"/>
<line x1="1846.50" y1="700.00" x2="1846.50" y2="765.50" stroke="#0000ff" stroke-width="4.2"/>
<line x1="1831.80" y1="700.00" x2="1861.20" y2="700.00" stroke="#0000ff" stroke-width="4.2"/>
<line x1="1595.60" y1="681.65" x2="1595.60" y2="986.15" stroke="#000000" stroke-width="3.1"/>
<line x1="1587.00" y1="984.60" x2="1893.00" y2="984.60" stroke="#000000" stroke-width="3.1"/>
<line x1="1587.00" y1="683.20" x2="1595.60" y2="683.20" stroke="#000000" stroke-width="3.1"/>
<text transform="translate(1584.00 691.30) scale(1.000 1.050)" font-size="23.0" text-anchor="end" font-weight="bold" stroke="#000" stroke-width="0.3" stroke-linejoin="round">0.005</text>
<line x1="1587.00" y1="743.48" x2="1595.60" y2="743.48" stroke="#000000" stroke-width="3.1"/>
<text transform="translate(1584.00 751.58) scale(1.000 1.050)" font-size="23.0" text-anchor="end" font-weight="bold" stroke="#000" stroke-width="0.3" stroke-linejoin="round">0.004</text>
<line x1="1587.00" y1="803.76" x2="1595.60" y2="803.76" stroke="#000000" stroke-width="3.1"/>
<text transform="translate(1584.00 811.86) scale(1.000 1.050)" font-size="23.0" text-anchor="end" font-weight="bold" stroke="#000" stroke-width="0.3" stroke-linejoin="round">0.003</text>
<line x1="1587.00" y1="864.04" x2="1595.60" y2="864.04" stroke="#000000" stroke-width="3.1"/>
<text transform="translate(1584.00 872.13) scale(1.000 1.050)" font-size="23.0" text-anchor="end" font-weight="bold" stroke="#000" stroke-width="0.3" stroke-linejoin="round">0.002</text>
<line x1="1587.00" y1="924.32" x2="1595.60" y2="924.32" stroke="#000000" stroke-width="3.1"/>
<text transform="translate(1584.00 932.42) scale(1.000 1.050)" font-size="23.0" text-anchor="end" font-weight="bold" stroke="#000" stroke-width="0.3" stroke-linejoin="round">0.001</text>
<line x1="1587.00" y1="984.60" x2="1595.60" y2="984.60" stroke="#000000" stroke-width="3.1"/>
<text transform="translate(1584.00 992.70) scale(1.000 1.050)" font-size="23.0" text-anchor="end" font-weight="bold" stroke="#000" stroke-width="0.3" stroke-linejoin="round">0.000</text>
<line x1="1639.60" y1="984.60" x2="1639.60" y2="993.00" stroke="#000000" stroke-width="3.1"/>
<line x1="1698.60" y1="984.60" x2="1698.60" y2="993.00" stroke="#000000" stroke-width="3.1"/>
<line x1="1787.30" y1="984.60" x2="1787.30" y2="993.00" stroke="#000000" stroke-width="3.1"/>
<line x1="1846.50" y1="984.60" x2="1846.50" y2="993.00" stroke="#000000" stroke-width="3.1"/>
<text transform="translate(1639.60 1015.20) scale(1.000 1.065)" font-size="22.4" text-anchor="middle">Ro</text>
<text transform="translate(1698.00 1015.20) scale(0.960 1.065)" font-size="22.4" text-anchor="middle">Ind</text>
<text transform="translate(1787.30 1015.20) scale(1.000 1.065)" font-size="22.4" text-anchor="middle">Ro</text>
<text transform="translate(1844.50 1015.20) scale(0.960 1.065)" font-size="22.4" text-anchor="middle">Ind</text>
<text transform="translate(1669.50 1041.30) scale(1.000 1.065)" font-size="22.4" text-anchor="middle">SGBS</text>
<text transform="translate(1813.80 1041.30) scale(1.000 1.065)" font-size="22.4" text-anchor="middle">ASC</text>
<line x1="1689.00" y1="662.70" x2="1835.20" y2="662.70" stroke="#000000" stroke-width="3.0"/>
<text transform="translate(1762.70 655.50) scale(1.000 0.985)" font-size="25" text-anchor="middle">ns</text>
<line x1="1777.00" y1="684.50" x2="1834.20" y2="684.50" stroke="#000000" stroke-width="3.0"/>
<text transform="translate(1803.20 685.63) scale(1.000 0.930)" font-size="24.25" text-anchor="middle">*</text>
<line x1="1638.20" y1="754.50" x2="1784.00" y2="754.50" stroke="#000000" stroke-width="3.0"/>
<text transform="translate(1711.80 746.70) scale(1.000 0.985)" font-size="25" text-anchor="middle">ns</text>
<line x1="1637.70" y1="832.50" x2="1695.00" y2="832.50" stroke="#000000" stroke-width="3.0"/>
<text transform="translate(1668.10 826.20) scale(1.000 0.985)" font-size="25" text-anchor="middle">ns</text>
<text transform="translate(1485.50 833.40) rotate(-90) scale(1.000 1.065)" font-size="24.65" text-anchor="middle" font-weight="bold" stroke="#000" stroke-width="0.3" stroke-linejoin="round">PRDM16 mRNA expression</text>
<text transform="translate(1517.00 834.30) rotate(-90) scale(1.000 1.065)" font-size="24.8" text-anchor="middle" font-weight="bold" stroke="#000" stroke-width="0.3" stroke-linejoin="round">rel to diff factors</text>
<text transform="translate(22.60 49.00) scale(1.000 1.040)" font-size="67" text-anchor="middle">A</text>
<text transform="translate(25.75 593.30) scale(1.000 1.018)" font-size="69" text-anchor="middle">B</text>
</svg>
</body></html>
